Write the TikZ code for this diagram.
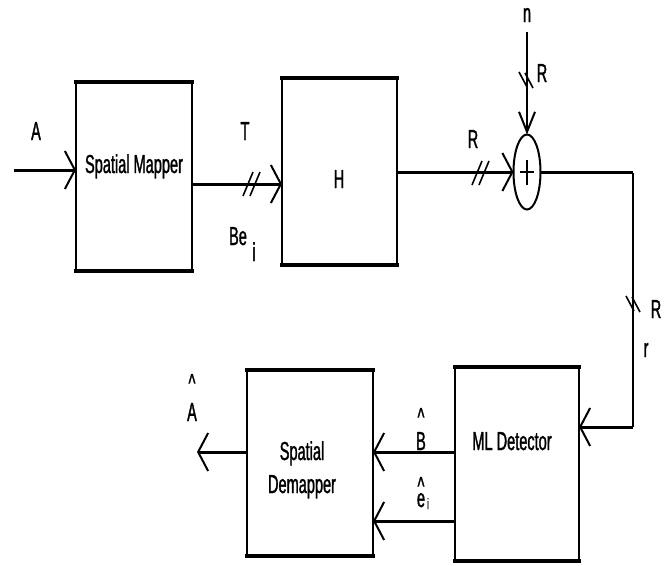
\documentclass[tikz,border=0pt]{standalone}
\usepackage{fontspec}
\setmainfont[FakeStretch=0.56,FakeBold=1.2]{Liberation Sans}
\usetikzlibrary{arrows.meta,shapes.geometric}
\begin{document}
\begin{tikzpicture}[x=1pt,y=-1pt,
  box/.style={draw, line width=2pt, inner sep=0pt, outer sep=0pt},
  edge/.style={line width=4pt, line cap=rect},
  txt/.style={inner sep=0pt, anchor=base, font=\fontsize{26}{28}\selectfont},
  hl/.style={line width=3pt},
  vl/.style={line width=2pt},
  ha/.style={-{Straight Barb[length=10pt,width=38pt,line width=2pt]}},
  va/.style={-{Straight Barb[length=20pt,width=16pt,line width=2pt]}},
  hsl/.pic={\draw[line width=1.6pt] (-8,12) -- (2,-12) (-1,12) -- (9,-12);},
  vsl/.pic={\draw[line width=1.6pt] (-8,-8) -- (0,7) (-2,-7) -- (6,8);}
]
\useasboundingbox (0,0) rectangle (672,565);

% blocks
\node[box, minimum width=116pt, minimum height=189pt] (map) at (134,176.5) {};
\node[box, minimum width=115pt, minimum height=187pt] (H) at (339.5,171.5) {};
\node[box, minimum width=124pt, minimum height=194pt] (ml) at (517,464) {};
\node[box, minimum width=126pt, minimum height=186pt] (dem) at (310,463) {};
\foreach \b in {map,H,ml,dem}{
  \draw[edge] (\b.north west) -- (\b.north east);
  \draw[edge] (\b.south west) -- (\b.south east);
}
\node[draw, ellipse, line width=2pt, inner sep=0pt, outer sep=0pt,
      minimum width=27pt, minimum height=75pt] (add) at (527,172) {};
\draw[line width=2pt] (add.center) ++(0,-12) -- ++(0,25)
                      (add.center) ++(-7,0) -- ++(14,0);

% block texts
\node[txt] (tmap) at (134,173) {Spatial Mapper};
\node[txt] (tH) at (339,188) {H};
\node[txt] (tml) at (512,450) {ML Detector};
\node[txt] (tsp) at (302,460) {Spatial};
\node[txt] (tdem) at (302,493) {Demapper};

% coordinates
\coordinate (in) at (14,170);
\coordinate (r1) at (0,184);
\coordinate (nz) at (527,32);
\coordinate (c1) at (633,173);
\coordinate (c2) at (633,427);
\coordinate (r2) at (0,452);
\coordinate (r3) at (0,521);
\coordinate (out) at (197,452);

% connectors
\draw[hl,ha] (in) -- (in -| map.west);
\draw[hl,ha] (map.east |- r1) -- (H.west |- r1);
\draw[hl,ha] (add.west -| H.east) -- (add.west);
\draw[vl,va] (nz) -- (add.north);
\draw[hl] (add.east) -- (add.east -| c1);
\draw[vl] (c1) -- (c2);
\draw[hl,ha] (c2) -- (c2 -| ml.east);
\draw[hl,ha] (ml.west |- r2) -- (dem.east |- r2);
\draw[hl,ha] (ml.west |- r3) -- (dem.east |- r3);
\draw[hl,ha] (dem.west |- r2) -- (out);

% bus slashes
\pic at (251,184) {hsl};
\pic at (480,173) {hsl};
\pic at (527,80) {vsl};
\pic at (634,304) {vsl};

% labels
\node[txt] (lA) at (36,140) {A};
\node[txt] (lT) at (245,140) {T};
\node[txt] (lBe) at (238,245) {Be};
\node[txt] (lBei) at (254,261) {i};
\node[txt] (lR1) at (473,148) {R};
\node[txt] (ln) at (527,22) {n};
\node[txt] (lR2) at (542,82) {R};
\node[txt] (lR3) at (656,318) {R};
\node[txt] (lr) at (646,357) {r};
\node[txt] (lAh) at (192,421) {A};
\node[txt] (lAhc) at (192,392) {\textasciicircum};
\node[txt] (lB) at (421,450) {B};
\node[txt] (lBc) at (421,426) {\textasciicircum};
\node[txt] (le) at (421,507) {e};
\node[txt] (lec) at (421,495) {\textasciicircum};
\node[txt, font=\fontsize{15}{15}\selectfont] (lei) at (428,509) {i};
\end{tikzpicture}
\end{document}
